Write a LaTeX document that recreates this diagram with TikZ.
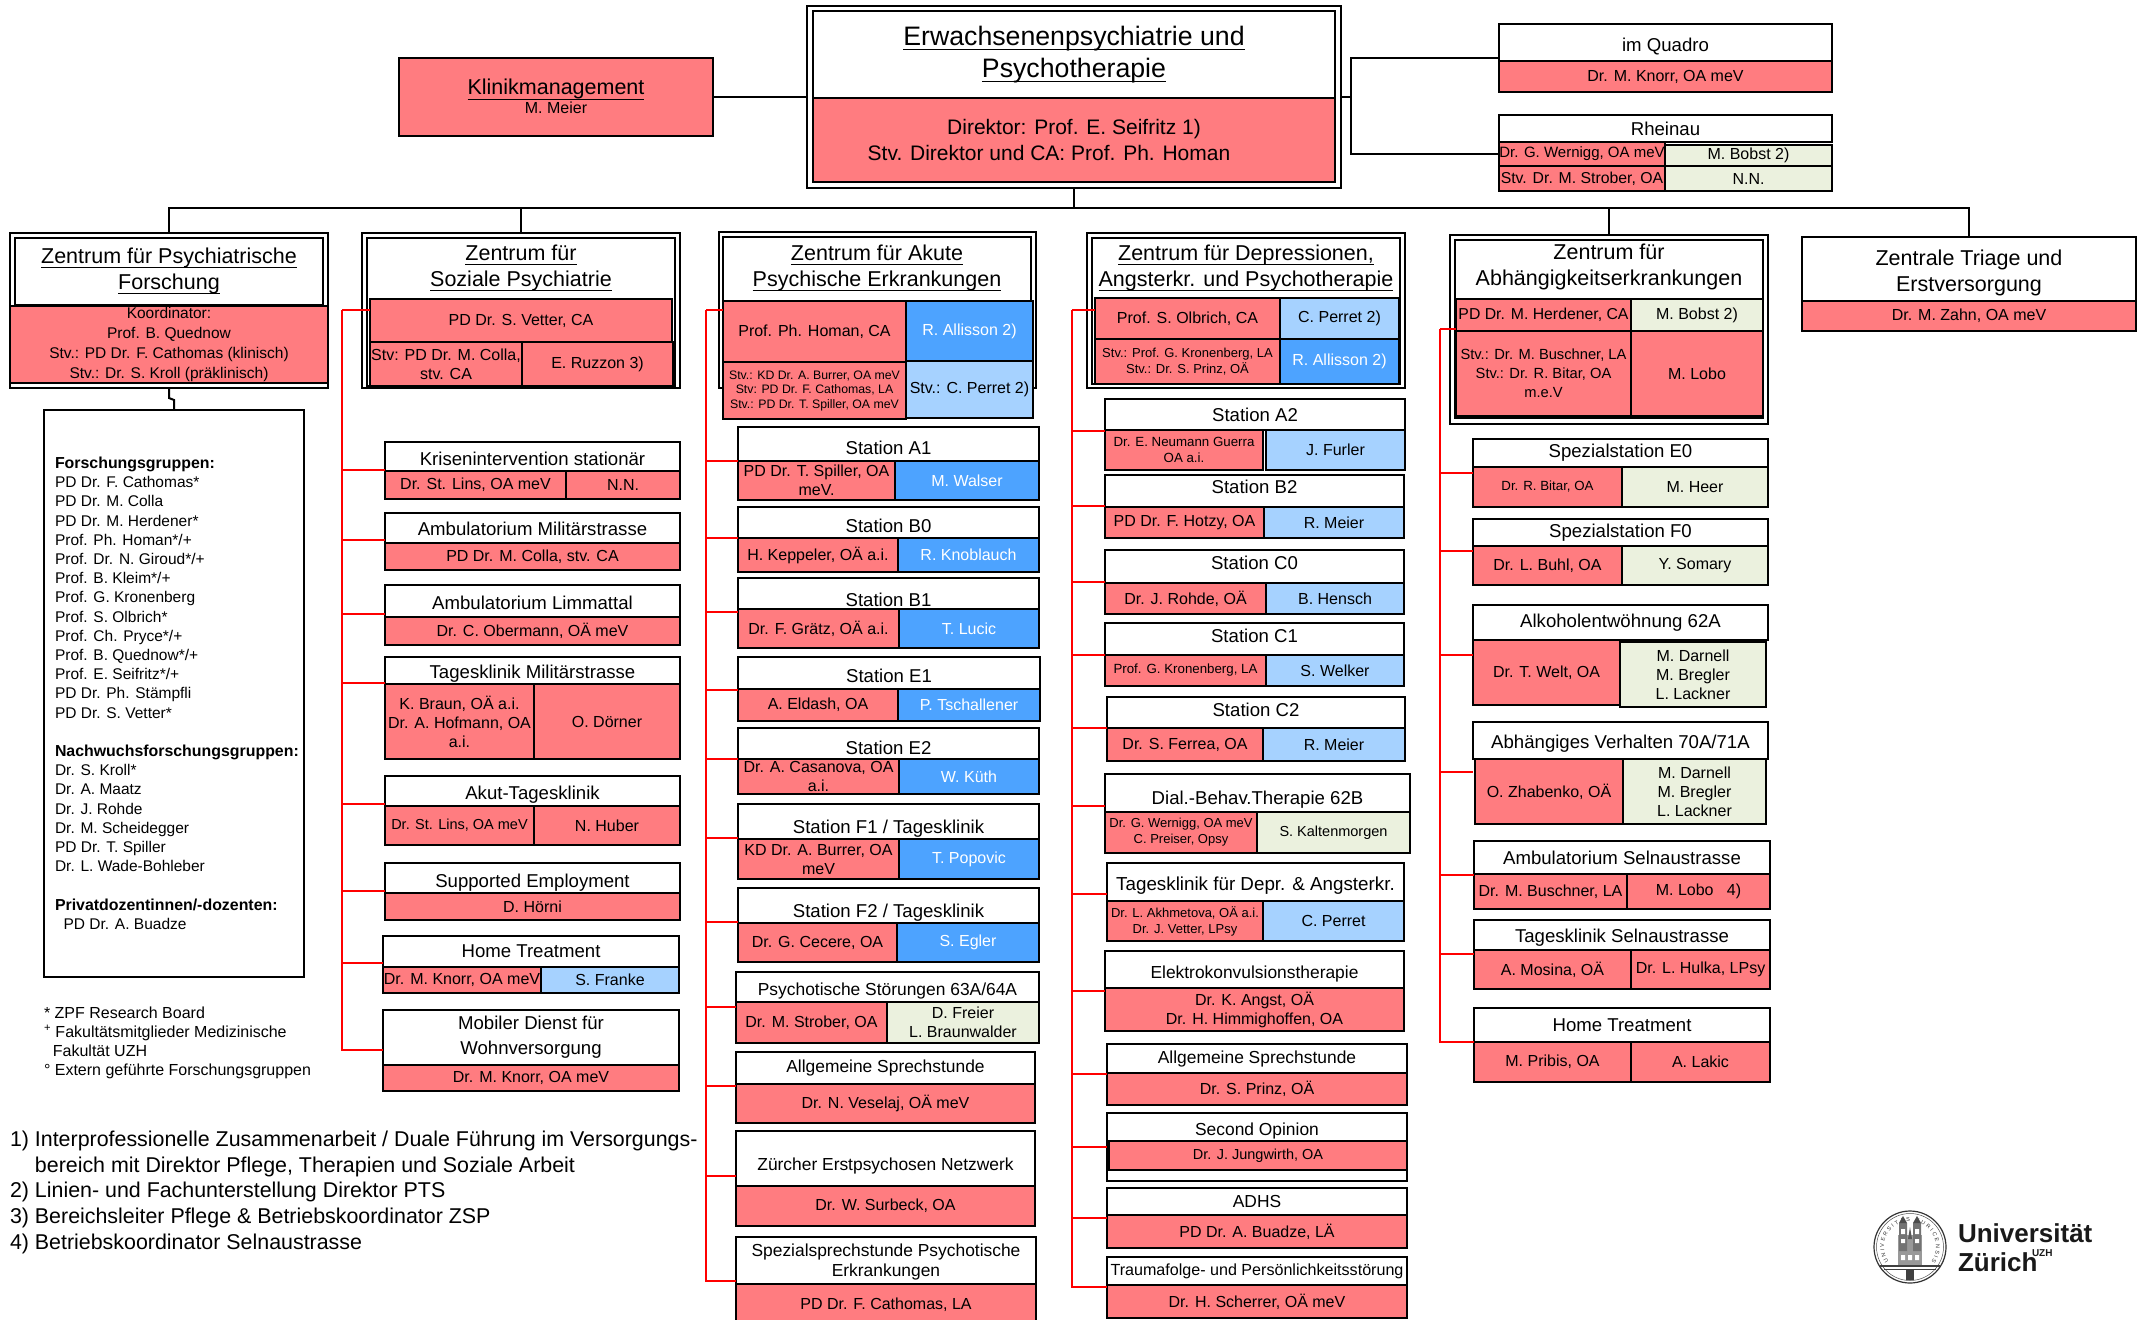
\documentclass[tikz,border=0pt]{standalone}
\usepackage{fontspec}
\setmainfont{Liberation Sans}
\usetikzlibrary{calc,decorations.text}
\newcommand{\uline}[1]{\underline{\vphantom{A}\smash{#1}\rule[-2.5pt]{0pt}{0pt}}}
\definecolor{clinicred}{RGB}{255,124,128}
\definecolor{carebluedark}{RGB}{77,163,255}
\definecolor{careblue}{RGB}{166,210,255}
\definecolor{caregreen}{RGB}{235,241,222}
\tikzset{
    spans/.style args={(#1,#2) (#3,#4)}{at={($(#1,#2)!0.5!(#3,#4)$)}, minimum width={(#3-#1)*1pt}, minimum height={(#4-#2)*1pt}},
    drop/.style={text height=#1pt, text depth=0pt},
    plaincell/.style={draw=black, line width=2.2pt, inner sep=0pt, outer sep=0pt, align=center, font=\fontsize{16}{19}\selectfont},
    framecell/.style={plaincell, fill=white},
    headcell/.style={plaincell, fill=white, font=\fontsize{18.6}{22}\selectfont},
    lowhead/.style={headcell, font=\fontsize{17.4}{21}\selectfont},
    titletext/.style={inner sep=0pt, outer sep=0pt, align=center, font=\fontsize{21.5}{26}\selectfont},
    redcell/.style={plaincell, fill=clinicred},
    darkcell/.style={plaincell, fill=carebluedark, text=white},
    bluecell/.style={plaincell, fill=careblue},
    greencell/.style={plaincell, fill=caregreen},
    midnames/.style={font=\fontsize{14.5}{19}\selectfont},
    smallnames/.style={font=\fontsize{13.3}{16}\selectfont},
    freetext/.style={inner sep=0pt, outer sep=0pt, anchor=north west, align=left},
    orgline/.style={draw=black, line width=2pt},
    redline/.style={draw=red, line width=2.2pt}
}
\begin{document}
\begin{tikzpicture}[x=1pt, y=-1pt]
    \useasboundingbox (0,0) rectangle (2137,1320);

    \node[framecell, spans={(807,6) (1341,188)}] (topOuter) {};
    \node[framecell, spans={(813,11) (1335,182)}] (topInner) {};
    \node[titletext, font=\fontsize{26.7}{32}\selectfont, spans={(813,11) (1335,98)}] (topTitle) {\uline{Erwachsenenpsychiatrie und}\\\uline{Psychotherapie}};
    \node[redcell, font=\fontsize{21}{26}\selectfont, spans={(813,98) (1335,182)}] (topLead) {Direktor: Prof. E. Seifritz 1)\\Stv. Direktor und CA: Prof. Ph. Homan\hspace*{50pt}};

    \node[redcell, spans={(399,58) (713,136)}] (klinik) {{\fontsize{21.5}{26}\selectfont\uline{Klinikmanagement}}\\M. Meier};

    \node[headcell, drop=17.5, spans={(1499,24) (1832,61)}] (quadroHead) {im Quadro};
    \node[redcell, spans={(1499,61) (1832,92)}] (quadroLead) {Dr. M. Knorr, OA meV};

    \node[headcell, spans={(1499,115) (1832,142)}] (rheinauHead) {Rheinau};
    \node[redcell, font=\fontsize{15}{19}\selectfont, spans={(1499,142) (1665,166)}] (rheinauLead) {Dr. G. Wernigg, OA meV};
    \node[greencell, spans={(1665,145) (1832,166)}] (rheinauCare) {M. Bobst 2)};
    \node[redcell, font=\fontsize{15.8}{19}\selectfont, spans={(1499,166) (1665,191)}] (rheinauDep) {Stv. Dr. M. Strober, OA};
    \node[greencell, spans={(1665,166) (1832,191)}] (rheinauNn) {N.N.};

    \node[framecell, spans={(10,233) (328,388)}] (forschOuter) {};
    \node[framecell, spans={(15,238) (323,305)}] (forschInner) {};
    \node[titletext, spans={(15,238) (323,305)}] (forschTitle) {\uline{Zentrum für Psychiatrische}\\\uline{Forschung}};
    \node[redcell, font=\fontsize{15.5}{20}\selectfont, spans={(10,306) (328,383)}] (forschLead) {Koordinator:\\Prof. B. Quednow\\Stv.: PD Dr. F. Cathomas (klinisch)\\Stv.: Dr. S. Kroll (präklinisch)};

    \node[framecell, spans={(44,410) (304,977)}] (researchBox) {};
    \node[freetext, font=\fontsize{15.5}{19.2}\selectfont] (researchList) at (55,457) {{\fontsize{15.9}{19.2}\selectfont\bfseries Forschungsgruppen:}\\PD Dr. F. Cathomas*\\PD Dr. M. Colla\\PD Dr. M. Herdener*\\Prof. Ph. Homan*/+\\Prof. Dr. N. Giroud*/+\\Prof. B. Kleim*/+\\Prof. G. Kronenberg\\Prof. S. Olbrich*\\Prof. Ch. Pryce*/+\\Prof. B. Quednow*/+\\Prof. E. Seifritz*/+\\PD Dr. Ph. Stämpfli\\PD Dr. S. Vetter*\\[19.2pt]{\fontsize{15.9}{19.2}\selectfont\bfseries Nachwuchsforschungsgruppen:}\\Dr. S. Kroll*\\Dr. A. Maatz\\Dr. J. Rohde\\Dr. M. Scheidegger\\PD Dr. T. Spiller\\Dr. L. Wade-Bohleber\\[19.2pt]{\fontsize{15.9}{19.2}\selectfont\bfseries Privatdozentinnen/-dozenten:}\\\ \ PD Dr. A. Buadze};
    \node[freetext, font=\fontsize{16}{19}\selectfont] (researchNotes) at (44,1007) {* ZPF Research Board\\\textsuperscript{+} Fakultätsmitglieder Medizinische\\\ \ Fakultät UZH\\° Extern geführte Forschungsgruppen};
    \node[freetext, font=\fontsize{21.4}{25.7}\selectfont] (footNotes) at (10,1131) {1) Interprofessionelle Zusammenarbeit / Duale Führung im Versorgungs-\\\phantom{1) }bereich mit Direktor Pflege, Therapien und Soziale Arbeit\\2) Linien- und Fachunterstellung Direktor PTS\\3) Bereichsleiter Pflege \& Betriebskoordinator ZSP\\4) Betriebskoordinator Selnaustrasse};

    \node[framecell, spans={(362,233) (680,388)}] (sozOuter) {};
    \node[framecell, spans={(367,238) (675,386)}] (sozInner) {};
    \node[titletext, spans={(367,238) (675,299)}] (sozTitle) {\uline{Zentrum für}\\\uline{Soziale Psychiatrie}};
    \node[redcell, spans={(370,299) (672,342)}] (sozLead) {PD Dr. S. Vetter, CA};
    \node[redcell, spans={(370,342) (522,386)}] (sozDep) {Stv: PD Dr. M. Colla,\\stv. CA};
    \node[redcell, spans={(522,342) (673,386)}] (sozCare) {E. Ruzzon 3)};

    \node[headcell, drop=18, spans={(385,442) (680,471)}] (kriseHead) {Krisenintervention stationär};
    \node[redcell, spans={(385,471) (566,499)}] (kriseLead) {Dr. St. Lins, OA meV};
    \node[redcell, spans={(566,471) (680,499)}] (kriseCare) {N.N.};

    \node[headcell, drop=15, spans={(385,513) (680,543)}] (ambuHead) {Ambulatorium Militärstrasse};
    \node[redcell, spans={(385,543) (680,570)}] (ambuLead) {PD Dr. M. Colla, stv. CA};

    \node[headcell, drop=17, spans={(385,585) (680,617)}] (limmatHead) {Ambulatorium Limmattal};
    \node[redcell, spans={(385,617) (680,645)}] (limmatLead) {Dr. C. Obermann, OÄ meV};

    \node[headcell, drop=16, spans={(385,657) (680,684)}] (tagesHead) {Tagesklinik Militärstrasse};
    \node[redcell, spans={(385,684) (534,759)}] (tagesLead) {K. Braun, OÄ a.i.\\Dr. A. Hofmann, OA\\a.i.};
    \node[redcell, spans={(534,684) (680,759)}] (tagesCare) {O. Dörner};

    \node[headcell, drop=17, spans={(385,776) (680,806)}] (akutHead) {Akut-Tagesklinik};
    \node[redcell, midnames, spans={(385,806) (534,845)}] (akutLead) {Dr. St. Lins, OA meV};
    \node[redcell, spans={(534,806) (680,845)}] (akutCare) {N. Huber};

    \node[headcell, drop=18, spans={(385,863) (680,893)}] (supportHead) {Supported Employment};
    \node[redcell, spans={(385,893) (680,920)}] (supportLead) {D. Hörni};

    \node[headcell, spans={(383,936) (679,967)}] (homeHead) {Home Treatment};
    \node[redcell, spans={(383,967) (541,993)}] (homeLead) {Dr. M. Knorr, OA meV};
    \node[bluecell, spans={(541,967) (679,993)}] (homeCare) {S. Franke};

    \node[headcell, font=\fontsize{18.6}{25}\selectfont, spans={(383,1010) (679,1065)}] (mobilHead) {Mobiler Dienst für\\Wohnversorgung};
    \node[redcell, spans={(383,1065) (679,1091)}] (mobilLead) {Dr. M. Knorr, OA meV};

    \node[framecell, spans={(719,232) (1036,388)}] (akuteOuter) {};
    \node[framecell, spans={(723,237) (1031,388)}] (akuteInner) {};
    \node[titletext, spans={(723,237) (1031,300)}] (akuteTitle) {\uline{Zentrum für Akute}\\\uline{Psychische Erkrankungen}};
    \node[redcell, spans={(723,301) (906,362)}] (akuteLead) {Prof. Ph. Homan, CA};
    \node[darkcell, spans={(906,301) (1033,361)}] (akuteCare) {R. Allisson 2)};
    \node[redcell, font=\fontsize{12.3}{14.5}\selectfont, spans={(723,362) (906,419)}] (akuteDep) {Stv.: KD Dr. A. Burrer, OA meV\\Stv: PD Dr. F. Cathomas, LA\\Stv.: PD Dr. T. Spiller, OA meV};
    \node[bluecell, spans={(906,361) (1033,418)}] (akuteCareDep) {Stv.: C. Perret 2)};

    \node[headcell, drop=20, spans={(738,427) (1039,461)}] (a1Head) {Station A1};
    \node[redcell, spans={(738,461) (895,500)}] (a1Lead) {PD Dr. T. Spiller, OA\\meV.};
    \node[darkcell, spans={(895,461) (1039,500)}] (a1Care) {M. Walser};

    \node[headcell, drop=20, spans={(738,507) (1039,538)}] (b0Head) {Station B0};
    \node[redcell, spans={(738,538) (898,572)}] (b0Lead) {H. Keppeler, OÄ a.i.};
    \node[darkcell, spans={(898,538) (1039,572)}] (b0Care) {R. Knoblauch};

    \node[headcell, drop=25, spans={(738,578) (1039,609)}] (b1Head) {Station B1};
    \node[redcell, spans={(738,609) (899,648)}] (b1Lead) {Dr. F. Grätz, OÄ a.i.};
    \node[darkcell, spans={(899,609) (1039,648)}] (b1Care) {T. Lucic};

    \node[headcell, drop=18, spans={(738,657) (1040,689)}] (e1Head) {Station E1};
    \node[redcell, spans={(738,689) (898,721)}] (e1Lead) {A. Eldash, OA};
    \node[darkcell, spans={(898,689) (1040,721)}] (e1Care) {P. Tschallener};

    \node[headcell, drop=21, spans={(738,728) (1039,759)}] (e2Head) {Station E2};
    \node[redcell, spans={(738,759) (899,794)}] (e2Lead) {Dr. A. Casanova, OA\\a.i.};
    \node[darkcell, spans={(899,759) (1039,794)}] (e2Care) {W. Küth};

    \node[headcell, drop=23, spans={(738,804) (1039,839)}] (f1Head) {Station F1 / Tagesklinik};
    \node[redcell, spans={(738,839) (899,879)}] (f1Lead) {KD Dr. A. Burrer, OA\\meV};
    \node[darkcell, spans={(899,839) (1039,879)}] (f1Care) {T. Popovic};

    \node[headcell, drop=24, spans={(738,888) (1039,923)}] (f2Head) {Station F2 / Tagesklinik};
    \node[redcell, spans={(738,923) (897,962)}] (f2Lead) {Dr. G. Cecere, OA};
    \node[darkcell, spans={(897,923) (1039,962)}] (f2Care) {S. Egler};

    \node[lowhead, drop=17, spans={(736,972) (1039,1002)}] (psychHead) {Psychotische Störungen 63A/64A};
    \node[redcell, spans={(736,1002) (887,1043)}] (psychLead) {Dr. M. Strober, OA};
    \node[greencell, spans={(887,1002) (1039,1043)}] (psychCare) {D. Freier\\L. Braunwalder};

    \node[lowhead, spans={(736,1052) (1035,1084)}] (sprechHead) {Allgemeine Sprechstunde};
    \node[redcell, spans={(736,1084) (1035,1123)}] (sprechLead) {Dr. N. Veselaj, OÄ meV};

    \node[lowhead, drop=23, spans={(736,1131) (1035,1186)}] (netzHead) {Zürcher Erstpsychosen Netzwerk};
    \node[redcell, spans={(736,1186) (1035,1226)}] (netzLead) {Dr. W. Surbeck, OA};

    \node[lowhead, font=\fontsize{17.4}{20.5}\selectfont, spans={(736,1237) (1036,1287)}] (spezHead) {Spezialsprechstunde Psychotische\\Erkrankungen};
    \node[redcell, spans={(736,1284) (1036,1325)}] (spezLead) {PD Dr. F. Cathomas, LA};

    \node[framecell, spans={(1087,233) (1405,388)}] (deprOuter) {};
    \node[framecell, spans={(1092,238) (1400,384)}] (deprInner) {};
    \node[titletext, spans={(1092,238) (1400,298)}] (deprTitle) {\uline{Zentrum für Depressionen,}\\\uline{Angsterkr. und Psychotherapie}};
    \node[redcell, spans={(1095,298) (1280,339)}] (deprLead) {Prof. S. Olbrich, CA};
    \node[bluecell, spans={(1280,298) (1399,339)}] (deprCare) {C. Perret 2)};
    \node[redcell, font=\fontsize{13}{16}\selectfont, spans={(1095,339) (1280,384)}] (deprDep) {Stv.: Prof. G. Kronenberg, LA\\Stv.: Dr. S. Prinz, OÄ};
    \node[darkcell, spans={(1280,339) (1399,384)}] (deprCareDep) {R. Allisson 2)};

    \node[headcell, spans={(1105,399) (1405,430)}] (a2Head) {Station A2};
    \node[redcell, smallnames, spans={(1105,430) (1263,470)}] (a2Lead) {Dr. E. Neumann Guerra\\OA a.i.};
    \node[bluecell, spans={(1266,430) (1405,470)}] (a2Care) {J. Furler};

    \node[headcell, drop=5.5, spans={(1105,475) (1404,507)}] (b2Head) {Station B2};
    \node[redcell, spans={(1105,507) (1264,538)}] (b2Lead) {PD Dr. F. Hotzy, OA};
    \node[bluecell, spans={(1264,507) (1404,538)}] (b2Care) {R. Meier};

    \node[headcell, drop=6, spans={(1105,550) (1404,583)}] (c0Head) {Station C0};
    \node[redcell, spans={(1105,583) (1266,614)}] (c0Lead) {Dr. J. Rohde, OÄ};
    \node[bluecell, spans={(1266,583) (1404,614)}] (c0Care) {B. Hensch};

    \node[headcell, drop=7, spans={(1105,623) (1404,655)}] (c1Head) {Station C1};
    \node[redcell, smallnames, spans={(1105,655) (1266,686)}] (c1Lead) {Prof. G. Kronenberg, LA};
    \node[bluecell, spans={(1266,655) (1404,686)}] (c1Care) {S. Welker};

    \node[headcell, drop=8, spans={(1107,697) (1405,728)}] (c2Head) {Station C2};
    \node[redcell, spans={(1107,728) (1263,761)}] (c2Lead) {Dr. S. Ferrea, OA};
    \node[bluecell, spans={(1263,728) (1405,761)}] (c2Care) {R. Meier};

    \node[headcell, drop=23, spans={(1105,774) (1410,812)}] (dialHead) {Dial.-Behav.Therapie 62B};
    \node[redcell, smallnames, font=\fontsize{13}{16}\selectfont, spans={(1105,812) (1257,853)}] (dialLead) {Dr. G. Wernigg, OA meV\\C. Preiser, Opsy};
    \node[greencell, midnames, spans={(1257,812) (1410,853)}] (dialCare) {S. Kaltenmorgen};

    \node[headcell, drop=16, font=\fontsize{18.8}{21}\selectfont, spans={(1107,863) (1404,901)}] (deprTagesHead) {Tagesklinik für Depr. \& Angsterkr.};
    \node[redcell, smallnames, font=\fontsize{13}{16}\selectfont, spans={(1107,901) (1263,941)}] (deprTagesLead) {Dr. L. Akhmetova, OÄ a.i.\\Dr. J. Vetter, LPsy};
    \node[bluecell, spans={(1263,901) (1404,941)}] (deprTagesCare) {C. Perret};

    \node[lowhead, drop=17, spans={(1105,951) (1404,988)}] (ektHead) {Elektrokonvulsionstherapie};
    \node[redcell, spans={(1105,988) (1404,1031)}] (ektLead) {Dr. K. Angst, OÄ\\Dr. H. Himmighoffen, OA};

    \node[lowhead, spans={(1107,1044) (1407,1073)}] (sprech2Head) {Allgemeine Sprechstunde};
    \node[redcell, spans={(1107,1073) (1407,1105)}] (sprech2Lead) {Dr. S. Prinz, OÄ};

    \node[framecell, spans={(1107,1113) (1407,1181)}] (opinionBox) {};
    \node[lowhead, drop=17, spans={(1107,1113) (1407,1141)}] (opinionHead) {Second Opinion};
    \node[redcell, midnames, spans={(1109,1141) (1407,1170)}] (opinionLead) {Dr. J. Jungwirth, OA};

    \node[lowhead, spans={(1107,1188) (1407,1215)}] (adhsHead) {ADHS};
    \node[redcell, spans={(1107,1215) (1407,1248)}] (adhsLead) {PD Dr. A. Buadze, LÄ};

    \node[headcell, font=\fontsize{16.1}{19}\selectfont, spans={(1107,1257) (1407,1285)}] (traumaHead) {Traumafolge- und Persönlichkeitsstörung};
    \node[redcell, spans={(1107,1285) (1407,1318)}] (traumaLead) {Dr. H. Scherrer, OÄ meV};

    \node[framecell, spans={(1450,235) (1768,424)}] (abhOuter) {};
    \node[framecell, spans={(1455,240) (1763,418)}] (abhInner) {};
    \node[titletext, spans={(1455,240) (1763,294)}] (abhTitle) {Zentrum für\\Abhängigkeitserkrankungen};
    \node[redcell, font=\fontsize{15.8}{19}\selectfont, spans={(1456,299) (1631,331)}] (abhLead) {PD Dr. M. Herdener, CA};
    \node[greencell, spans={(1631,299) (1763,331)}] (abhCare) {M. Bobst 2)};
    \node[redcell, font=\fontsize{14.7}{19}\selectfont, spans={(1456,331) (1631,416)}] (abhDep) {Stv.: Dr. M. Buschner, LA\\Stv.: Dr. R. Bitar, OA\\m.e.V};
    \node[redcell, spans={(1631,331) (1763,416)}] (abhCareDep) {M. Lobo};

    \node[headcell, spans={(1473,439) (1768,467)}] (e0Head) {Spezialstation E0};
    \node[redcell, smallnames, spans={(1473,467) (1622,507)}] (e0Lead) {Dr. R. Bitar, OA};
    \node[greencell, spans={(1622,467) (1768,507)}] (e0Care) {M. Heer};

    \node[headcell, spans={(1473,519) (1768,546)}] (f0Head) {Spezialstation F0};
    \node[redcell, spans={(1473,546) (1622,585)}] (f0Lead) {Dr. L. Buhl, OA};
    \node[greencell, spans={(1622,546) (1768,585)}] (f0Care) {Y. Somary};

    \node[headcell, spans={(1473,605) (1768,640)}] (alkHead) {Alkoholentwöhnung 62A};
    \node[redcell, spans={(1473,640) (1620,705)}] (alkLead) {Dr. T. Welt, OA};
    \node[greencell, spans={(1620,642) (1766,707)}] (alkCare) {M. Darnell\\M. Bregler\\L. Lackner};

    \node[headcell, drop=15, spans={(1473,722) (1768,759)}] (abhVHead) {Abhängiges Verhalten 70A/71A};
    \node[redcell, spans={(1475,759) (1623,824)}] (abhVLead) {O. Zhabenko, OÄ};
    \node[greencell, spans={(1623,759) (1766,824)}] (abhVCare) {M. Darnell\\M. Bregler\\L. Lackner};

    \node[headcell, spans={(1474,841) (1770,874)}] (selnHead) {Ambulatorium Selnaustrasse};
    \node[redcell, spans={(1474,874) (1627,909)}] (selnLead) {Dr. M. Buschner, LA};
    \node[redcell, spans={(1627,874) (1770,909)}] (selnCare) {M. Lobo\ \ \ 4)};

    \node[headcell, drop=15.5, spans={(1474,920) (1770,950)}] (selnTagesHead) {Tagesklinik Selnaustrasse};
    \node[redcell, spans={(1474,950) (1631,989)}] (selnTagesLead) {A. Mosina, OÄ};
    \node[redcell, spans={(1631,950) (1770,989)}] (selnTagesCare) {Dr. L. Hulka, LPsy};

    \node[headcell, spans={(1474,1008) (1770,1042)}] (home2Head) {Home Treatment};
    \node[redcell, spans={(1474,1042) (1631,1082)}] (home2Lead) {M. Pribis, OA};
    \node[redcell, spans={(1631,1042) (1770,1082)}] (home2Care) {A. Lakic};

    \node[framecell, font=\fontsize{21.5}{26}\selectfont, spans={(1802,237) (2136,301)}] (triageHead) {\rule{0pt}{24pt}Zentrale Triage und\\Erstversorgung};
    \node[redcell, spans={(1802,301) (2136,331)}] (triageLead) {Dr. M. Zahn, OA meV};

    \coordinate (topBus) at (1074,208);
    \coordinate (rightBus) at (1351,97);
    \coordinate (sozBus) at (342,310);
    \coordinate (akuteBus) at (706,310);
    \coordinate (deprBus) at (1072,310);
    \coordinate (abhBus) at (1440,329);

    \draw[orgline] (klinik.east) -- (topOuter.west);
    \draw[orgline] (topOuter.east) -- (rightBus);
    \draw[orgline] (rightBus) |- (quadroHead.west |- 0,58);
    \draw[orgline] (rightBus) |- (rheinauLead.west);
    \draw[orgline] (topOuter.south) -- (topBus);
    \draw[orgline] (topBus) -| (forschOuter.north);
    \draw[orgline] (topBus) -| (sozOuter.north);
    \draw[orgline] (topBus) -| (abhOuter.north);
    \draw[orgline] (topBus) -| (triageHead.north);
    \draw[orgline] (forschOuter.south) -- ++(0,10) -- ++(5,2) -- (researchBox.north);

    \draw[redline] (sozBus) -- (sozLead.west |- sozBus);
    \draw[redline] (sozBus) |- (kriseHead.west |- 0,470);
    \draw[redline] (sozBus) |- (ambuHead.west |- 0,540);
    \draw[redline] (sozBus) |- (limmatHead.west |- 0,614);
    \draw[redline] (sozBus) |- (tagesHead.west |- 0,683);
    \draw[redline] (sozBus) |- (akutHead.west |- 0,804);
    \draw[redline] (sozBus) |- (supportHead.west |- 0,891);
    \draw[redline] (sozBus) |- (homeHead.west |- 0,963);
    \draw[redline] (sozBus) |- (mobilHead.west |- 0,1050);

    \draw[redline] (akuteBus) -- (akuteLead.west |- akuteBus);
    \draw[redline] (akuteBus) |- (a1Head.west |- 0,461);
    \draw[redline] (akuteBus) |- (b0Head.west |- 0,538);
    \draw[redline] (akuteBus) |- (b1Head.west |- 0,612);
    \draw[redline] (akuteBus) |- (e1Head.west |- 0,690);
    \draw[redline] (akuteBus) |- (e2Head.west |- 0,759);
    \draw[redline] (akuteBus) |- (f1Head.west |- 0,838);
    \draw[redline] (akuteBus) |- (f2Head.west |- 0,922);
    \draw[redline] (akuteBus) |- (psychHead.west |- 0,1007);
    \draw[redline] (akuteBus) |- (sprechHead.west |- 0,1086);
    \draw[redline] (akuteBus) |- (netzHead.west |- 0,1176);
    \draw[redline] (akuteBus) |- (spezHead.west |- 0,1281);

    \draw[redline] (deprBus) -- (deprLead.west |- deprBus);
    \draw[redline] (deprBus) |- (a2Head.west |- 0,431);
    \draw[redline] (deprBus) |- (b2Head.west |- 0,506);
    \draw[redline] (deprBus) |- (c0Head.west |- 0,582);
    \draw[redline] (deprBus) |- (c1Head.west |- 0,655);
    \draw[redline] (deprBus) |- (c2Head.west |- 0,728);
    \draw[redline] (deprBus) |- (dialHead.west |- 0,806);
    \draw[redline] (deprBus) |- (deprTagesHead.west |- 0,894);
    \draw[redline] (deprBus) |- (ektHead.west |- 0,991);
    \draw[redline] (deprBus) |- (sprech2Head.west |- 0,1074);
    \draw[redline] (deprBus) |- (opinionHead.west |- 0,1147);
    \draw[redline] (deprBus) |- (adhsHead.west |- 0,1218);
    \draw[redline] (deprBus) |- (traumaHead.west |- 0,1287);

    \draw[redline] (abhBus) -- (abhLead.west |- abhBus);
    \draw[redline] (abhBus) |- (e0Head.west |- 0,473);
    \draw[redline] (abhBus) |- (f0Head.west |- 0,551);
    \draw[redline] (abhBus) |- (alkHead.west |- 0,655);
    \draw[redline] (abhBus) |- (abhVHead.west |- 0,772);
    \draw[redline] (abhBus) |- (selnHead.west |- 0,875);
    \draw[redline] (abhBus) |- (selnTagesHead.west |- 0,954);
    \draw[redline] (abhBus) |- (home2Head.west |- 0,1042);

    \begin{scope}[shift={(1910,1247)}, y=1pt]
        \draw[line width=1.2pt, black!80] (0,0) circle [radius=36];
        \draw[line width=0.5pt, black!70] (0,0) circle [radius=33.5];
        \draw[line width=0.5pt, black!70] (0,0) circle [radius=22];
        \path[decorate, decoration={text along path, text align=fit to path, text={|\fontsize{5.5}{6}\selectfont\color{black!80}|UNIVERSITAS TURICENSIS}}] (215:26) arc [start angle=215, end angle=-35, radius=26];
        \fill[white] (0,0) circle [radius=24];
        \fill[black!40] (-12,-19) rectangle (12,12);
        \fill[black!55] (-11,-4) rectangle (-3,24) (3,-4) rectangle (11,24);
        \fill[black!70] (-11,24) -- (-7,31) -- (-3,24) -- cycle (3,24) -- (7,31) -- (11,24) -- cycle;
        \fill[black!65] (-2,8) -- (0,20) -- (2,8) -- cycle;
        \fill[white] (-9,4) rectangle (-5,8) (5,4) rectangle (9,8) (-9,13) rectangle (-5,18) (5,13) rectangle (9,18) (-9,-13) rectangle (-5,-8) (5,-13) rectangle (9,-8) (-2,-13) rectangle (2,-8);
        \draw[line width=1.4pt, black!75] (-30,-19) -- (30,-19);
        \draw[line width=0.8pt, black!75] (-26,-22) -- (26,-22);
        \fill[black!75] (-4,-22) rectangle (4,-33);
    \end{scope}
    \node[freetext, anchor=base west, font=\fontsize{26}{30}\bfseries\selectfont, text=black!90] (logoTop) at (1958,1242) {Universität};
    \node[freetext, anchor=base west, font=\fontsize{26}{30}\bfseries\selectfont, text=black!90] (logoBottom) at (1958,1271) {Zürich};
    \node[freetext, anchor=base west, font=\fontsize{10}{12}\bfseries\selectfont, text=black!90] (logoTag) at (2032,1256) {UZH};
\end{tikzpicture}
\end{document}
